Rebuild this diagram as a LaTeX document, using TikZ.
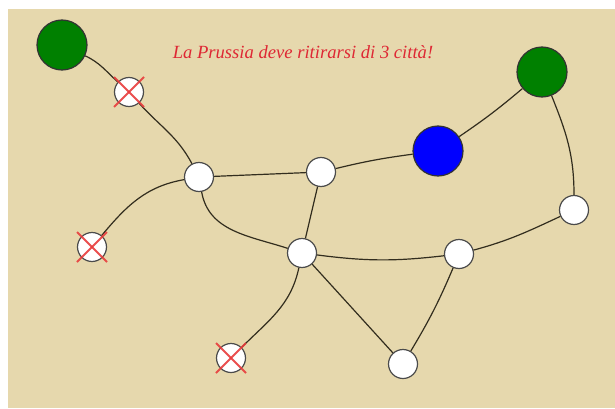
\documentclass[tikz,border=0pt]{standalone}
\usepackage{fontspec}
\newfontfamily\titlefont{Liberation Serif}
\definecolor{paper}{RGB}{230,216,173}
\definecolor{edgeink}{RGB}{50,45,30}
\definecolor{rim}{RGB}{75,75,75}
\definecolor{alarm}{RGB}{222,40,52}
\definecolor{crossred}{RGB}{232,60,60}
\begin{document}
\begin{tikzpicture}[x=1pt,y=1pt,
  city/.style={circle,draw=rim,line width=1.2pt,fill=white,minimum size=29pt,inner sep=0pt},
  capital/.style={circle,draw=black!80,line width=1.2pt,minimum size=50pt,inner sep=0pt},
  road/.style={draw=edgeink,line width=1.2pt},
  xmark/.style={draw=crossred,line width=1.8pt,opacity=0.9}]
\useasboundingbox (0,0) rectangle (615,408);
\fill[paper] (8,0) rectangle (615,399);

% cities
\node[capital,fill=green!50!black] (G1) at (62,363) {};
\node[capital,fill=green!50!black] (G2) at (542,336) {};
\node[capital,fill=blue] (K) at (438,257) {};
\node[city] (X1) at (129,316) {};
\node[city] (A) at (199,231) {};
\node[city] (B) at (321,236) {};
\node[city] (C) at (574,198) {};
\node[city] (D) at (459,154) {};
\node[city] (E) at (302,155) {};
\node[city] (F) at (403,44) {};
\node[city] (X2) at (92,161) {};
\node[city] (X3) at (231,50) {};

% roads
\draw[road] (G1) to[out=-25,in=138] (X1);
\draw[road] (X1) to[out=-48,in=118] (A);
\draw[road] (A) to[out=190,in=50] (X2);
\draw[road] (A) to[out=-80,in=162] (E);
\draw[road] (A) -- (B);
\draw[road] (B) to[bend left=3] (K);
\draw[road] (K) to[bend right=3] (G2);
\draw[road] (G2) to[out=-68,in=90] (C);
\draw[road] (C) to[out=205,in=15] (D);
\draw[road] (E) to[bend right=7] (D);
\draw[road] (B) -- (E);
\draw[road] (E) -- (F);
\draw[road] (D) to[bend left=4] (F);
\draw[road] (E) to[out=-102,in=45] (X3);

% lost cities
\foreach \c in {X1,X2,X3}{
  \draw[xmark] (\c.center) +(-15,-15) -- +(15,15);
  \draw[xmark] (\c.center) +(-15,15) -- +(15,-15);
}

\node[text=alarm,font=\titlefont\itshape\fontsize{18.6}{22}\selectfont] (T) at (303,356) {La Prussia deve ritirarsi di 3 città!};
\end{tikzpicture}
\end{document}
